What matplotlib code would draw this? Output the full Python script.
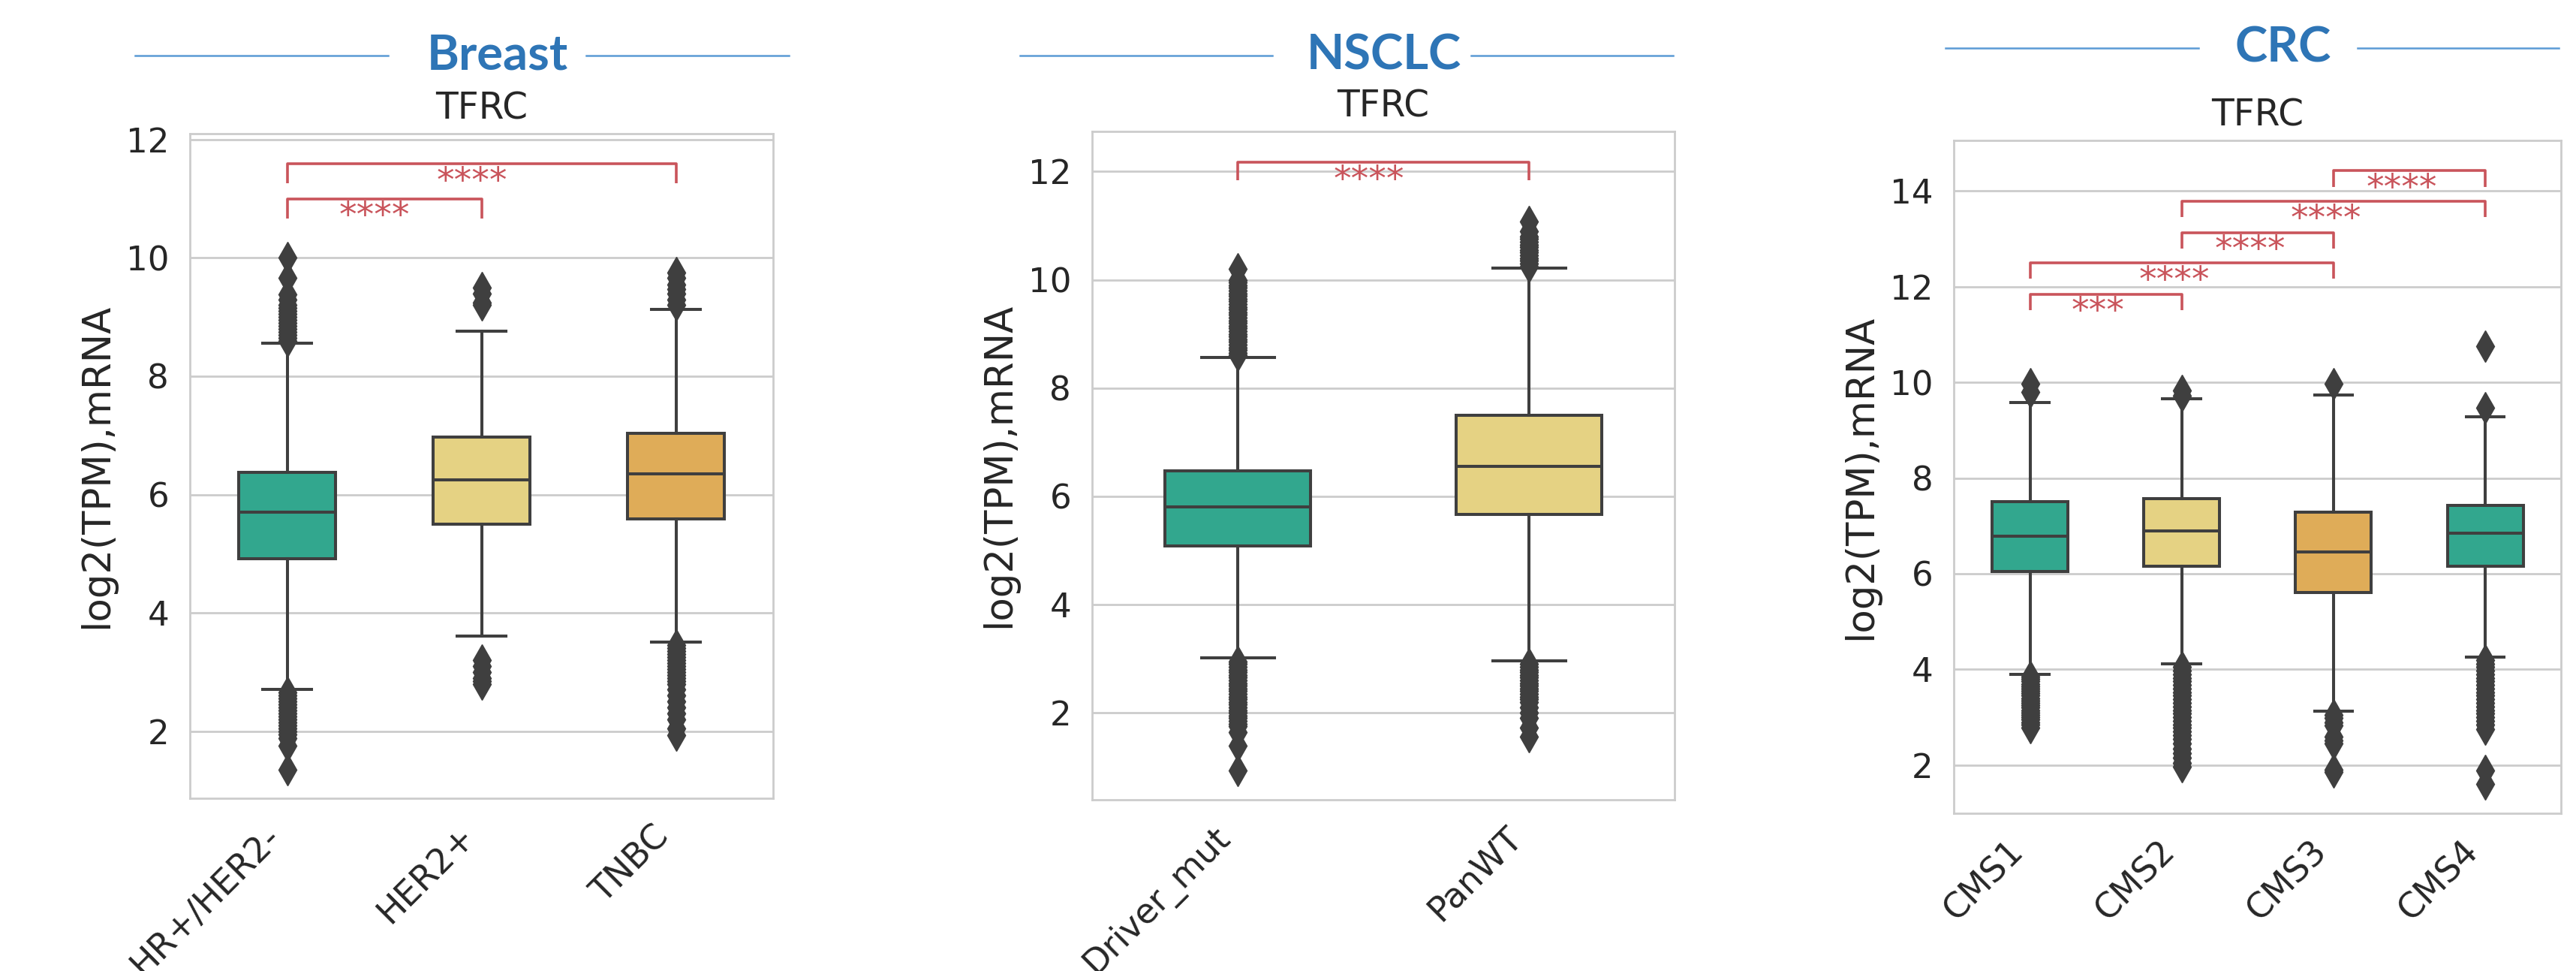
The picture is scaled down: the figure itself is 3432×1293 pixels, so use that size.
import matplotlib
matplotlib.use("Agg")
import matplotlib.pyplot as plt
from matplotlib.lines import Line2D

plt.rcParams["font.family"] = ["DejaVu Sans"]

# ---------------- data ----------------
gene = "TFRC"
ylabel = "log2(TPM),mRNA"

breast_groups = ["HR+/HER2-", "HER2+", "TNBC"]
breast_q1 = [4.91, 5.50, 5.59]
breast_med = [5.70, 6.25, 6.35]
breast_q3 = [6.38, 6.97, 7.04]
breast_whislo = [2.71, 3.61, 3.51]
breast_whishi = [8.56, 8.76, 9.13]
breast_fliers = [
    [8.6, 8.65, 8.7, 8.75, 8.8, 8.85, 8.9, 8.95, 9.0, 9.05, 9.1, 9.15, 9.2, 9.3, 9.38, 9.66, 10.0,
     2.65, 2.6, 2.55, 2.5, 2.45, 2.4, 2.35, 2.3, 2.25, 2.2, 2.15, 2.1, 2.05, 2.0, 1.95, 1.88, 1.75, 1.35],
    [9.2, 9.25, 9.4, 9.5, 3.2, 3.1, 3.0, 2.9, 2.85, 2.8],
    [9.2, 9.3, 9.4, 9.47, 9.55, 9.66, 9.75,
     3.45, 3.4, 3.35, 3.3, 3.25, 3.2, 3.15, 3.1, 3.05, 3.0, 2.95, 2.9, 2.85, 2.8, 2.7, 2.6, 2.5,
     2.4, 2.3, 2.2, 2.05, 1.93],
]
breast_pairs = [(0, 2), (0, 1)]
breast_bar_y = [11.59, 11.0]
breast_stars = ["****", "****"]

nsclc_groups = ["Driver_mut", "PanWT"]
nsclc_q1 = [5.08, 5.67]
nsclc_med = [5.81, 6.55]
nsclc_q3 = [6.47, 7.49]
nsclc_whislo = [3.01, 2.96]
nsclc_whishi = [8.56, 10.21]
nsclc_fliers = [
    [8.6, 8.65, 8.7, 8.75, 8.8, 8.85, 8.9, 8.95, 9.0, 9.05, 9.1, 9.15, 9.2, 9.25, 9.3, 9.35, 9.4,
     9.45, 9.5, 9.55, 9.6, 9.65, 9.7, 9.75, 9.8, 9.85, 9.9, 9.95, 10.0, 10.2,
     2.95, 2.9, 2.85, 2.8, 2.75, 2.7, 2.65, 2.6, 2.55, 2.5, 2.45, 2.4, 2.35, 2.3, 2.25, 2.2, 2.15,
     2.1, 2.05, 2.0, 1.95, 1.9, 1.85, 1.8, 1.75, 1.64, 1.4, 0.93],
    [10.25, 10.3, 10.35, 10.4, 10.45, 10.5, 10.55, 10.6, 10.65, 10.7, 10.75, 10.8, 10.9, 11.07,
     2.9, 2.85, 2.8, 2.75, 2.7, 2.65, 2.6, 2.55, 2.5, 2.45, 2.4, 2.35, 2.3, 2.25, 2.2, 2.1, 2.0,
     1.9, 1.72, 1.56],
]
nsclc_pairs = [(0, 1)]
nsclc_bar_y = [12.17]
nsclc_stars = ["****"]

crc_groups = ["CMS1", "CMS2", "CMS3", "CMS4"]
crc_q1 = [6.04, 6.15, 5.61, 6.15]
crc_med = [6.79, 6.90, 6.45, 6.84]
crc_q3 = [7.50, 7.57, 7.28, 7.43]
crc_whislo = [3.89, 4.11, 3.13, 4.25]
crc_whishi = [9.58, 9.65, 9.73, 9.28]
crc_fliers = [
    [9.79, 9.97,
     3.85, 3.8, 3.75, 3.7, 3.65, 3.6, 3.55, 3.5, 3.45, 3.4, 3.35, 3.3, 3.25, 3.2, 3.15, 3.1,
     3.05, 3.0, 2.95, 2.9, 2.85, 2.78],
    [9.72, 9.83,
     4.05, 3.98, 3.9, 3.82, 3.75, 3.68, 3.6, 3.52, 3.45, 3.38, 3.3, 3.22, 3.15, 3.08, 3.0, 2.92,
     2.85, 2.78, 2.7, 2.62, 2.55, 2.45, 2.35, 2.25, 2.15, 2.05, 1.97],
    [9.97, 3.05, 2.98, 2.9, 2.83, 2.6, 2.52, 2.45, 1.9, 1.85],
    [9.47, 10.75,
     4.2, 4.12, 4.05, 3.98, 3.9, 3.82, 3.75, 3.68, 3.6, 3.52, 3.45, 3.38, 3.3, 3.22, 3.15, 3.08,
     3.0, 2.92, 2.85, 2.75, 1.89, 1.61],
]
crc_pairs = [(2, 3), (1, 3), (1, 2), (0, 2), (0, 1)]
crc_bar_y = [14.42, 13.78, 13.13, 12.49, 11.84]
crc_stars = ["****", "****", "****", "****", "***"]

headers = ["Breast", "NSCLC", "CRC"]

# ---------------- style ----------------
TEAL = "#32A78E"
YELLOW = "#E5D283"
ORANGE = "#DFAC58"
EDGE = "#3f3f3f"
RED = "#C9545B"
GRID = "#cccccc"
TXT = "#262626"

W, H = 3432, 1293
fig = plt.figure(figsize=(W / 100, H / 100), dpi=100)
fig.patch.set_facecolor("white")

panels = [
    dict(rect=[253 / W, 1 - 1063.4 / H, 777 / W, 885.4 / H], groups=breast_groups, q1=breast_q1,
         med=breast_med, q3=breast_q3, lo=breast_whislo, hi=breast_whishi, fl=breast_fliers,
         colors=[TEAL, YELLOW, ORANGE], ylim=(0.86, 12.1), yticks=[2, 4, 6, 8, 10, 12],
         pairs=breast_pairs, bary=breast_bar_y, stars=breast_stars),
    dict(rect=[1455 / W, 1 - 1064.6 / H, 776 / W, 889.6 / H], groups=nsclc_groups, q1=nsclc_q1,
         med=nsclc_med, q3=nsclc_q3, lo=nsclc_whislo, hi=nsclc_whishi, fl=nsclc_fliers,
         colors=[TEAL, YELLOW], ylim=(0.40, 12.74), yticks=[2, 4, 6, 8, 10, 12],
         pairs=nsclc_pairs, bary=nsclc_bar_y, stars=nsclc_stars),
    dict(rect=[2603.4 / W, 1 - 1083.2 / H, 808.8 / W, 896.5 / H], groups=crc_groups, q1=crc_q1,
         med=crc_med, q3=crc_q3, lo=crc_whislo, hi=crc_whishi, fl=crc_fliers,
         colors=[TEAL, YELLOW, ORANGE, TEAL], ylim=(0.99, 15.06), yticks=[2, 4, 6, 8, 10, 12, 14],
         pairs=crc_pairs, bary=crc_bar_y, stars=crc_stars),
]

for p in panels:
    ax = fig.add_axes(p["rect"])
    ax.set_facecolor("white")
    n = len(p["groups"])
    stats = []
    for i in range(n):
        stats.append(dict(med=p["med"][i], q1=p["q1"][i], q3=p["q3"][i],
                          whislo=p["lo"][i], whishi=p["hi"][i], fliers=p["fl"][i],
                          label=p["groups"][i]))
    bp = ax.bxp(stats, positions=list(range(n)), widths=0.5, patch_artist=True,
                showfliers=True,
                boxprops=dict(edgecolor=EDGE, linewidth=2.9),
                medianprops=dict(color=EDGE, linewidth=2.9),
                whiskerprops=dict(color=EDGE, linewidth=2.9),
                capprops=dict(color=EDGE, linewidth=2.9),
                flierprops=dict(marker="d", markersize=21, markerfacecolor=EDGE,
                                markeredgecolor=EDGE, markeredgewidth=1, linestyle="none"),
                zorder=3)
    for patch, c in zip(bp["boxes"], p["colors"]):
        patch.set_facecolor(c)

    ax.set_xlim(-0.5, n - 0.5)
    ax.set_ylim(*p["ylim"])
    ax.set_yticks(p["yticks"])
    ax.set_xticks(list(range(n)))
    ax.set_xticklabels(p["groups"], rotation=45, ha="right", fontsize=33, color=TXT)
    ax.tick_params(axis="y", labelsize=32.5, labelcolor=TXT, length=0, pad=20)
    ax.tick_params(axis="x", length=0, pad=20)
    ax.grid(axis="y", color=GRID, linewidth=2)
    ax.grid(axis="x", visible=False)
    ax.set_axisbelow(True)
    for s in ax.spines.values():
        s.set_color(GRID)
        s.set_linewidth(2)
    ax.set_ylabel(ylabel, fontsize=37, color=TXT, labelpad=10)
    ax.set_title(gene, fontsize=35, color=TXT, pad=14)

    # significance annotations
    h = 0.33
    for (a, b), y, s in zip(p["pairs"], p["bary"], p["stars"]):
        ax.plot([a, a, b, b], [y - h, y, y, y - h], color=RED, linewidth=2.6, zorder=4,
                solid_capstyle="butt")
        ax.text((a + b) / 2 - 0.05, y - 0.02, s, ha="center", va="top", fontsize=34,
                color=RED, zorder=4)

# ---------------- section headers ----------------
hdr = [
    dict(text=headers[0], x=662.5, y=74, l=(180, 517), r=(781, 1051)),
    dict(text=headers[1], x=1844, y=74, l=(1359, 1695), r=(1960, 2229)),
    dict(text=headers[2], x=3041.5, y=64, l=(2592, 2928.5), r=(3140.5, 3409)),
]
for hd in hdr:
    fy = 1 - hd["y"] / H
    for seg in (hd["l"], hd["r"]):
        fig.add_artist(Line2D([seg[0] / W, seg[1] / W], [fy, fy], transform=fig.transFigure,
                              color="#5B9BD5", linewidth=1.8))
    fig.text(hd["x"] / W, fy, hd["text"], ha="center", va="center", fontsize=47,
             fontweight="bold", family=["Lato", "DejaVu Sans"], color="#2E75B6")

fig.savefig("out.png", dpi=100, facecolor="white")
